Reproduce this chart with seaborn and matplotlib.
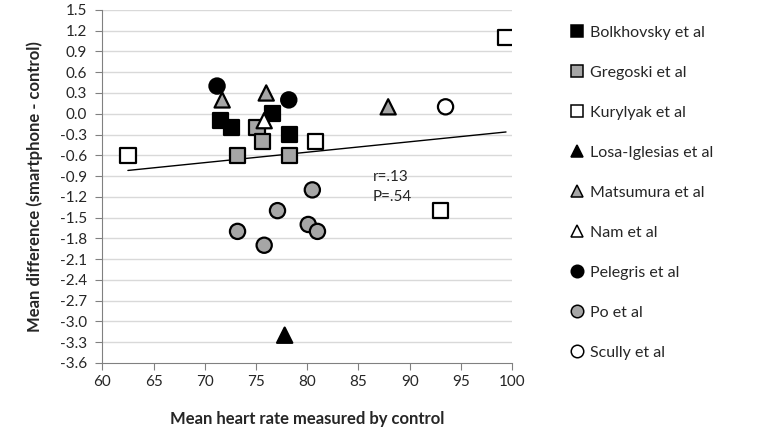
import matplotlib

matplotlib.use("Agg")

import matplotlib.pyplot as plt
import numpy as np
import pandas as pd
import seaborn as sns

STUDIES = [
    "Bolkhovsky et al",
    "Gregoski et al",
    "Kurylyak et al",
    "Losa-Iglesias et al",
    "Matsumura et al",
    "Nam et al",
    "Pelegris et al",
    "Po et al",
    "Scully et al",
]
CONTROL_HR = [
    [71.5, 72.6, 76.6, 78.3],
    [75.1, 75.6, 73.2, 78.3],
    [62.5, 80.8, 99.4, 93.0],
    [77.8],
    [71.7, 76.0, 87.9],
    [75.8],
    [71.2, 78.2],
    [80.5, 77.1, 73.2, 75.8, 80.1, 81.0],
    [93.5],
]
MEAN_DIFF = [
    [-0.1, -0.2, 0.0, -0.3],
    [-0.2, -0.4, -0.6, -0.6],
    [-0.6, -0.4, 1.1, -1.4],
    [-3.2],
    [0.2, 0.3, 0.1],
    [-0.1],
    [0.4, 0.2],
    [-1.1, -1.4, -1.7, -1.9, -1.6, -1.7],
    [0.1],
]
MARKERS = ["s", "s", "s", "^", "^", "^", "o", "o", "o"]
COLORS = ["black", "#A6A6A6", "white"] * 3
Y_TICKS = np.round(np.arange(1.5, -3.61, -0.3), 1)
X_TICKS = list(range(60, 101, 5))

rows = []
for study, xs, ys in zip(STUDIES, CONTROL_HR, MEAN_DIFF):
    for x, y in zip(xs, ys):
        rows.append({"study": study, "control": x, "diff": y})
frame = pd.DataFrame(rows)

sns.set_style("white")
plt.rcParams["font.family"] = ["Lato", "DejaVu Sans"]

fig = plt.figure(figsize=(7.69, 4.32), dpi=100)
ax = fig.add_axes([0.133, 0.160, 0.533, 0.817])

for y in Y_TICKS[:-1]:
    ax.axhline(y, color="#D9D9D9", lw=1, zorder=0)

sns.regplot(
    data=frame, x="control", y="diff", scatter=False, ci=None, truncate=True,
    color="black", line_kws={"lw": 1}, ax=ax,
)
sns.scatterplot(
    data=frame, x="control", y="diff", hue="study", style="study",
    hue_order=STUDIES, style_order=STUDIES,
    palette=dict(zip(STUDIES, COLORS)), markers=dict(zip(STUDIES, MARKERS)),
    s=120, edgecolor="black", linewidth=1.6, zorder=3, ax=ax,
)

ax.text(86.4, -0.91, "r=.13", fontsize=11, va="center", ha="left")
ax.text(86.4, -1.21, "P=.54", fontsize=11, va="center", ha="left")

ax.set_xlim(60, 100)
ax.set_ylim(-3.6, 1.5)
ax.set_xticks(X_TICKS)
ax.set_yticks(Y_TICKS)
ax.set_yticklabels([f"{abs(v) if v == 0 else v:.1f}" for v in Y_TICKS])
ax.tick_params(axis="both", labelsize=11, direction="out", length=5, color="#808080",
               bottom=True, left=True)
ax.tick_params(axis="y", pad=6)
for side in ["top", "right"]:
    ax.spines[side].set_visible(False)
for side in ["left", "bottom"]:
    ax.spines[side].set_color("#808080")
ax.set_xlabel("Mean heart rate measured by control", fontsize=12, fontweight="bold",
              labelpad=16)
ax.set_ylabel("Mean difference (smartphone - control)", fontsize=12, fontweight="bold",
              labelpad=12)

handles, labels = ax.get_legend_handles_labels()
for h in handles:
    h.set_markersize(9)
    h.set_markeredgewidth(1.1)
ax.legend(handles, labels, loc="upper left", bbox_to_anchor=(1.1, 0.997), frameon=False,
          fontsize=11.5, labelspacing=1.62, handletextpad=0.2, handlelength=1.2)

fig.savefig("out.png", dpi=100)
